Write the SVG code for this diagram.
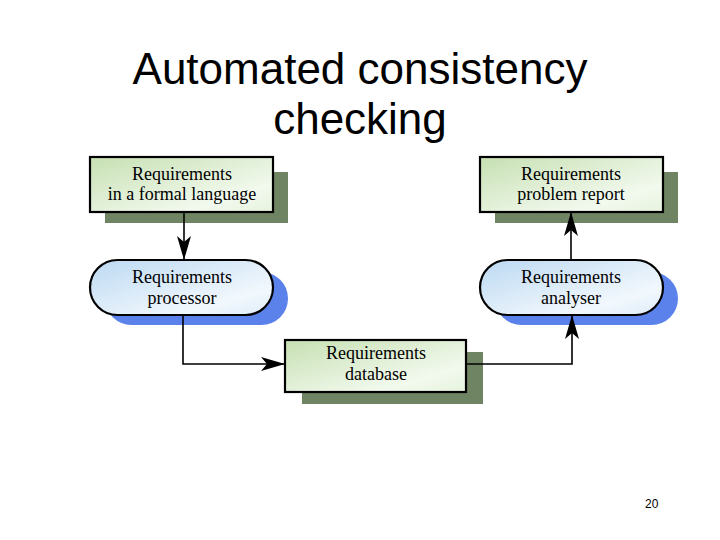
<svg xmlns="http://www.w3.org/2000/svg" width="720" height="540" viewBox="0 0 720 540">
<defs>
<linearGradient id="gGreen" x1="0" y1="0" x2="1" y2="1">
<stop offset="0" stop-color="#c6e0b2"/>
<stop offset="0.75" stop-color="#f2f9ee"/>
<stop offset="1" stop-color="#e6f3dd"/>
</linearGradient>
<linearGradient id="gBlue" x1="0" y1="0" x2="1" y2="1">
<stop offset="0" stop-color="#bcd9f2"/>
<stop offset="0.75" stop-color="#f2f8fd"/>
<stop offset="1" stop-color="#dcebf8"/>
</linearGradient>
<marker id="arr" viewBox="0 0 24 16" refX="23" refY="8" markerWidth="24" markerHeight="16" markerUnits="userSpaceOnUse" orient="auto">
<path d="M0,1 L24,8 L0,15 L6,8 Z" fill="#000"/>
</marker>
<style>
.title{font-family:"Liberation Sans",Arial,sans-serif;font-size:44px;fill:#000;text-anchor:middle}
.lbl{font-family:"Liberation Serif","Times New Roman",serif;font-size:18px;fill:#000;text-anchor:middle}
.box{fill:url(#gGreen);stroke:#000;stroke-width:2.2}
.pill{fill:url(#gBlue);stroke:#000;stroke-width:2.2}
.sg{fill:#6e8462}
.sb{fill:#5a82ea}
.con{fill:none;stroke:#000;stroke-width:1.6}
.pg{font-family:"Liberation Sans",Arial,sans-serif;font-size:12px;fill:#000}
</style>
</defs>
<rect width="720" height="540" fill="#fff"/>
<text class="title" x="360" y="84">Automated consistency</text>
<text class="title" x="360" y="134">checking</text>

<g id="n-formal">
<rect class="sg" x="105" y="172" width="183" height="51"/>
<rect class="box" x="90" y="157" width="183" height="55"/>
<text class="lbl" x="182" y="180">Requirements</text>
<text class="lbl" x="182" y="200">in a formal language</text>
</g>

<g id="n-report">
<rect class="sg" x="495" y="172" width="183" height="51"/>
<rect class="box" x="480" y="157" width="183" height="55"/>
<text class="lbl" x="571" y="180">Requirements</text>
<text class="lbl" x="571" y="200">problem report</text>
</g>

<g id="n-processor">
<rect class="sb" x="105" y="272" width="183" height="53" rx="26.5"/>
<rect class="pill" x="90" y="260" width="183" height="55" rx="27.5"/>
<text class="lbl" x="182" y="283">Requirements</text>
<text class="lbl" x="182" y="304">processor</text>
</g>

<g id="n-analyser">
<rect class="sb" x="495" y="272" width="183" height="53" rx="26.5"/>
<rect class="pill" x="480" y="260" width="183" height="55" rx="27.5"/>
<text class="lbl" x="571" y="283">Requirements</text>
<text class="lbl" x="571" y="304">analyser</text>
</g>

<g id="n-database">
<rect class="sg" x="302" y="352" width="181" height="52"/>
<rect class="box" x="285" y="340" width="181" height="52"/>
<text class="lbl" x="376" y="359">Requirements</text>
<text class="lbl" x="376" y="380">database</text>
</g>

<g id="connectors">
<path class="con" d="M184,212 L184,259" marker-end="url(#arr)"/>
<path class="con" d="M571,260 L571,213" marker-end="url(#arr)"/>
<path class="con" d="M183,315 L183,364 L284,364" marker-end="url(#arr)"/>
<path class="con" d="M466,364 L572,364 L572,316" marker-end="url(#arr)"/>
</g>

<text class="pg" x="645" y="508">20</text>
</svg>
